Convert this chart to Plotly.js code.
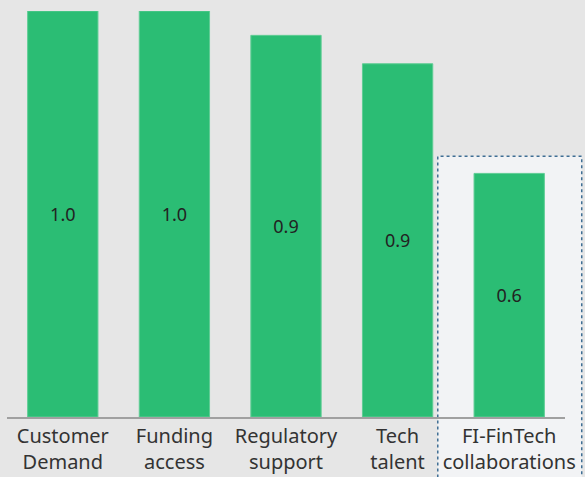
<!DOCTYPE html>
<html>
<head>
<meta charset="utf-8">
<script src="https://cdn.plot.ly/plotly-3.0.1.min.js"></script>
<style>
  html, body { margin: 0; padding: 0; background: #e6e6e6; }
  #plot { width: 585px; height: 477px; }
</style>
</head>
<body>
<div id="plot"></div>
<script>
// drivers and their scores
const categories = ['Customer<br>Demand', 'Funding<br>access', 'Regulatory<br>support', 'Tech<br>talent', 'FI-FinTech<br>collaborations'];
const scores = [1.0, 1.0, 0.94, 0.87, 0.60];

const trace = {
    x: categories,
    y: scores,
    type: 'bar',
    marker: { color: '#2bbd74', line: { color: '#5fcd94', width: 1 } },
    texttemplate: '%{y:.1f}',
    textposition: 'inside',
    insidetextanchor: 'middle',
    textfont: { family: 'Noto Sans, sans-serif', size: 18, color: '#222222' },
    hoverinfo: 'none'
};

const layout = {
    width: 585,
    height: 477,
    margin: { l: 7, r: 20, t: 11, b: 60 },
    paper_bgcolor: '#e6e6e6',
    plot_bgcolor: 'rgba(0,0,0,0)',
    bargap: 0.37,
    showlegend: false,
    xaxis: {
        showline: true,
        linecolor: '#a0a0a0',
        linewidth: 2,
        ticks: '',
        showgrid: false,
        tickfont: { family: 'Noto Sans, sans-serif', size: 20, color: '#333333' }
    },
    yaxis: {
        range: [0, 1],
        visible: false,
        showgrid: false,
        zeroline: false
    },
    // highlight box round the last bar
    shapes: [{
        type: 'rect',
        xref: 'paper', yref: 'paper',
        x0: 0.772, x1: 1.030,
        y0: -0.2, y1: 0.642,
        layer: 'below',
        fillcolor: '#f2f3f5',
        line: { color: '#3f6e94', width: 1.5, dash: 'dot' }
    }]
};

Plotly.newPlot('plot', [trace], layout, { displayModeBar: false, staticPlot: true });
</script>
</body>
</html>
